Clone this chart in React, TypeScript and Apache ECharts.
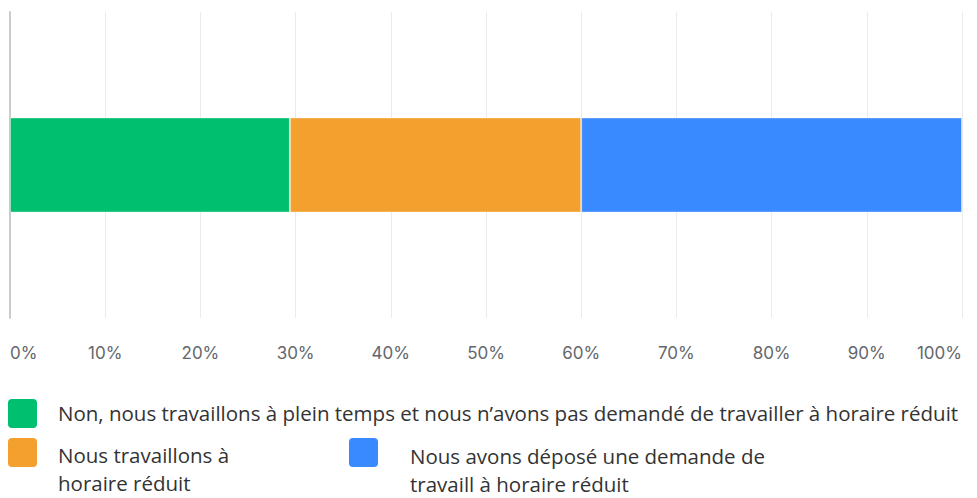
import React, { useEffect, useRef } from "react";
import * as echarts from "echarts";

const categories = ["Réponse"];
const seriesNames = [
  "Non, nous travaillons à plein temps et nous n’avons pas demandé de travailler à horaire réduit",
  "Nous travaillons à\nhoraire réduit",
  "Nous avons déposé une demande de\ntravaill à horaire réduit",
];
const seriesValues = [29.4, 30.6, 40.0];
const colors = ["#00BF6F", "#F3A02F", "#3A8AFF"];
const tickLabels = ["0%", "10%", "20%", "30%", "40%", "50%", "60%", "70%", "80%", "90%", "100%"];

const legendFont = "'Open Sans', sans-serif";

export default function App() {
  const ref = useRef<HTMLDivElement>(null);
  useEffect(() => {
    document.body.style.margin = "0";
    const chart = echarts.init(ref.current!, null, { renderer: "svg" });
    const legendPos = [
      { sx: 8, sy: 399, tx: 58, ty: 413, lh: 28 },
      { sx: 8, sy: 438, tx: 58, ty: 469, lh: 28 },
      { sx: 349, sy: 438, tx: 410, ty: 470, lh: 28 },
    ];
    const graphic: any[] = [];
    seriesNames.forEach((name, i) => {
      const p = legendPos[i];
      graphic.push({
        type: "rect",
        left: p.sx,
        top: p.sy,
        shape: { width: 29, height: 29, r: 4 },
        style: { fill: colors[i] },
      });
      graphic.push({
        type: "text",
        x: p.tx,
        y: p.ty,
        style: {
          text: name,
          font: `20.5px ${legendFont}`,
          fill: "#333333",
          lineHeight: p.lh,
          verticalAlign: "middle",
        },
      });
    });
    chart.setOption({
      animation: false,
      grid: { left: 10, right: 15, top: 12, bottom: 180, containLabel: false },
      xAxis: {
        type: "value",
        min: 0,
        max: 100,
        interval: 10,
        axisLine: { show: false },
        axisTick: { show: false },
        splitLine: { show: true, lineStyle: { color: "#ebebeb", width: 1 } },
        axisLabel: {
          margin: 26,
          color: "#63676d",
          fontSize: 17,
          fontFamily: "Inter, sans-serif",
          alignMinLabel: "left",
          alignMaxLabel: "right",
          formatter: (v: number) => tickLabels[Math.round(v / 10)],
        },
      },
      yAxis: {
        type: "category",
        data: categories,
        axisLine: { show: true, lineStyle: { color: "#cccccc", width: 2 } },
        axisTick: { show: false },
        axisLabel: { show: false },
      },
      series: seriesNames.map((name, i) => ({
        type: "bar",
        name,
        stack: "total",
        barWidth: 95,
        data: [seriesValues[i]],
        itemStyle: { color: colors[i], borderColor: "rgba(255,255,255,0.35)", borderWidth: 1 },
      })),
      graphic,
    });
    return () => chart.dispose();
  }, []);
  return <div ref={ref} style={{ width: 977, height: 498 }} />;
}
